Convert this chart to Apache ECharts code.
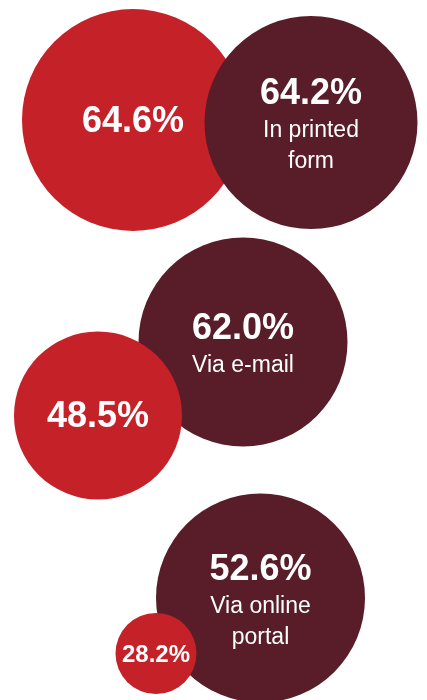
<!DOCTYPE html>
<html>
<head>
<meta charset="utf-8">
<script src="https://cdn.jsdelivr.net/npm/echarts@6/dist/echarts.min.js"></script>
<style>
  html, body { margin: 0; padding: 0; background: #ffffff; }
  #chart { width: 427px; height: 700px; }
</style>
</head>
<body>
<div id="chart"></div>
<script>
// Share of respondents by delivery channel
const channels = ['In printed\nform', 'Via e-mail', 'Via online\nportal'];
const channelValues = [64.2, 62.0, 52.6];     // dark bubbles, labelled with the channel
const comparisonValues = [64.6, 48.5, 28.2];  // red bubbles

// Bubble layout per channel: centre x, centre y (grid units) and diameter
const darkLayout = [[311, 122.5, 213], [243, 342, 209], [260.5, 598, 209]];
const redLayout = [[133, 120, 222], [98, 415.5, 168], [156, 653.5, 81]];
// Which bubble is drawn on top in each row
const redOnTop = [false, true, true];

const RED = '#c52128';
const DARK = '#581d28';
const FONT = '"Liberation Sans", Arial, sans-serif';

function pct(v) { return v.toFixed(1) + '%'; }

function darkItem(i) {
  const [x, y, d] = darkLayout[i];
  const lines = channels[i].split('\n').map(s => '{c|' + s + '}').join('\n');
  return {
    value: [x, y, channelValues[i]],
    symbolSize: d,
    itemStyle: { color: DARK, opacity: 1 },
    label: { formatter: '{v|' + pct(channelValues[i]) + '}\n' + lines, offset: [0, 3] }
  };
}

function redItem(i) {
  const [x, y, d] = redLayout[i];
  const style = d < 120 ? 's' : 'v';
  return {
    value: [x, y, comparisonValues[i]],
    symbolSize: d,
    itemStyle: { color: RED, opacity: 1 },
    label: { formatter: '{' + style + '|' + pct(comparisonValues[i]) + '}', offset: [0, 2] }
  };
}

const items = [];
channels.forEach((_, i) => {
  if (redOnTop[i]) { items.push(darkItem(i), redItem(i)); }
  else { items.push(redItem(i), darkItem(i)); }
});

const chart = echarts.init(document.getElementById('chart'), null, { renderer: 'canvas' });
chart.setOption({
  animation: false,
  backgroundColor: '#ffffff',
  grid: { left: 0, right: 0, top: 0, bottom: 0 },
  xAxis: { type: 'value', min: 0, max: 427, show: false },
  yAxis: { type: 'value', min: 0, max: 700, inverse: true, show: false },
  series: [{
    type: 'scatter',
    clip: false,
    symbol: 'circle',
    data: items,
    itemStyle: { opacity: 1 },
    emphasis: { disabled: true },
    label: {
      show: true,
      position: 'inside',
      align: 'center',
      verticalAlign: 'middle',
      color: '#ffffff',
      opacity: 1,
      fontFamily: FONT,
      rich: {
        v: { fontSize: 36, fontWeight: 'bold', color: '#ffffff', fontFamily: FONT, lineHeight: 42, align: 'center' },
        s: { fontSize: 24, fontWeight: 'bold', color: '#ffffff', fontFamily: FONT, lineHeight: 28, align: 'center' },
        c: { fontSize: 23, color: '#ffffff', fontFamily: FONT, lineHeight: 31, align: 'center' }
      }
    }
  }]
});
</script>
</body>
</html>
